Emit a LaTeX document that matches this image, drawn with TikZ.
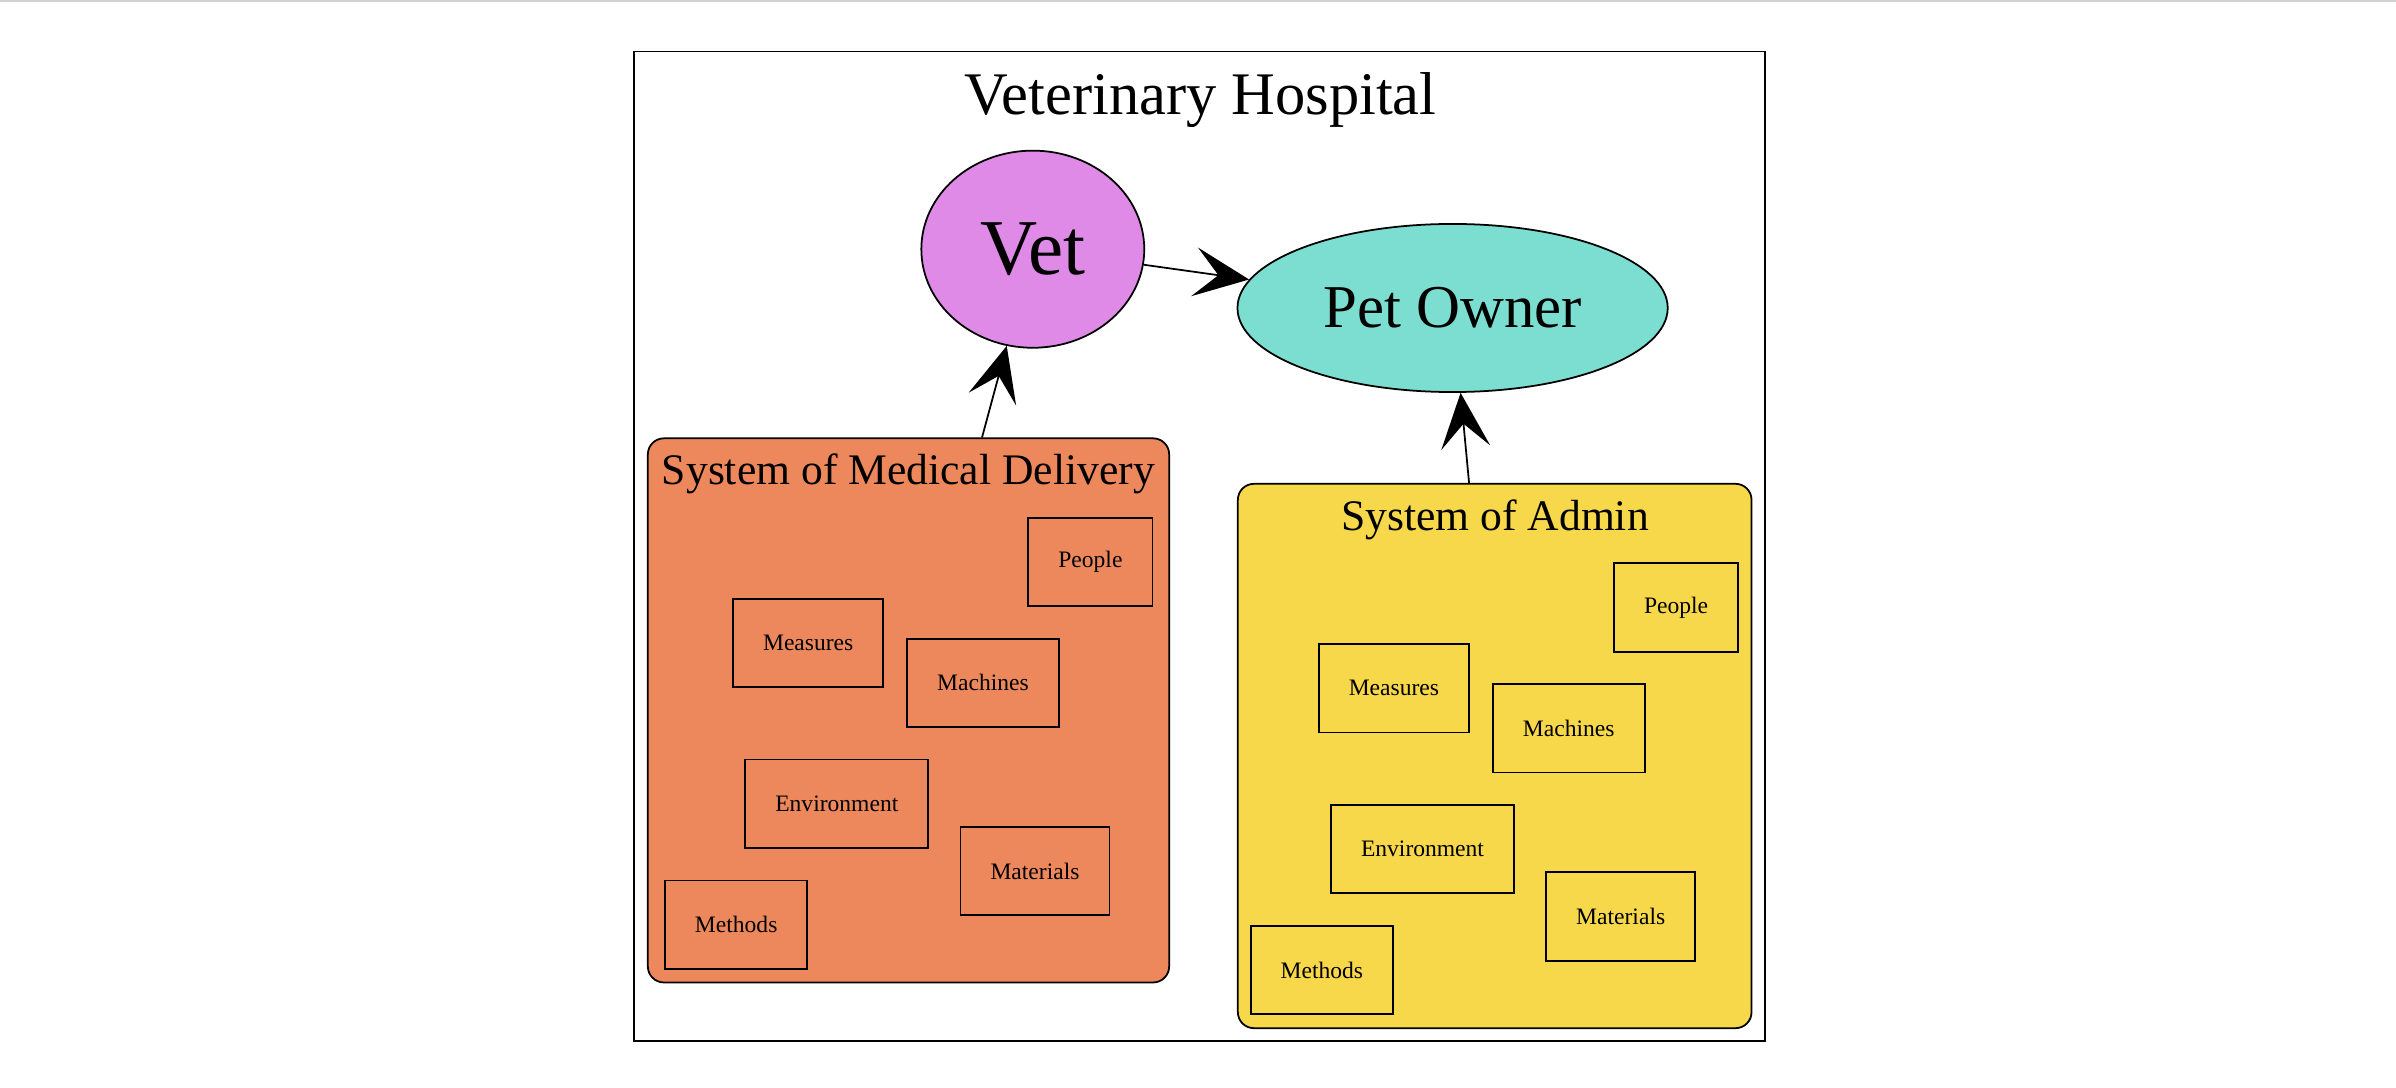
\documentclass[tikz,border=0pt]{standalone}
\usepackage{fontspec}
\setmainfont{Liberation Serif}
\usepackage{tikz}
\usetikzlibrary{arrows.meta,positioning,shapes.geometric}

\definecolor{vetpink}{RGB}{222,138,230}
\definecolor{ownerteal}{RGB}{123,222,208}
\definecolor{medorange}{RGB}{236,136,92}
\definecolor{adminyellow}{RGB}{247,216,74}

\tikzset{
  frame/.style={draw, line width=0.45pt, inner sep=0pt},
  cluster/.style={draw, line width=0.5pt, rounded corners=0.16cm, inner sep=0pt},
  part/.style={draw, line width=0.55pt, inner xsep=0.3cm, inner ysep=0pt, minimum height=0.886cm, font=\fontsize{6.7}{8}\selectfont},
  actor/.style={draw, ellipse, line width=0.5pt, inner sep=0pt},
  arr/.style={-{Stealth[length=0.55cm, width=0.49cm, inset=0.24cm]}, line width=0.5pt}
}

\begin{document}
\begin{tikzpicture}[x=0.01cm, y=-0.01cm]
  \useasboundingbox (0,0) rectangle (2396,1088);
  \draw[gray!35, line width=0.6pt] (0,1) -- (2396,1);

  % Outer frame and title
  \node[frame, minimum width=11.30cm, minimum height=9.89cm] (hospital) at (1199.5,546.2) {};
  \node[anchor=base, font=\fontsize{17.2}{20}\selectfont] (title) at (1200.5,115) {Veterinary Hospital};

  % Vet and Pet Owner
  \node[actor, fill=vetpink, minimum width=2.228cm, minimum height=1.97cm, font=\fontsize{22.5}{26}\selectfont] (vet) at (1032.8,249.2) {Vet};
  \node[actor, fill=ownerteal, minimum width=4.30cm, minimum height=1.68cm, font=\fontsize{17.3}{20}\selectfont] (owner) at (1452.6,308) {Pet Owner};

  % Systems
  \node[cluster, fill=medorange, minimum width=5.21cm, minimum height=5.438cm] (medical) at (908.5,710.4) {};
  \node[anchor=base, font=\fontsize{12.4}{15}\selectfont] (medicaltitle) at (908.4,484.7) {System of Medical Delivery};
  \node[cluster, fill=adminyellow, minimum width=5.134cm, minimum height=5.44cm] (admin) at (1494.7,756) {};
  \node[anchor=base, font=\fontsize{12.4}{15}\selectfont] (admintitle) at (1495,530) {System of Admin};

  % Parts of each system
  \foreach \sys/\dx/\dy in {medical/0/0, admin/585.7/45.3} {
    \begin{scope}[shift={(\dx,\dy)}]
      \node[part] (\sys-people) at (1090.4,562.1) {People};
      \node[part] (\sys-measures) at (808.2,642.9) {Measures};
      \node[part] (\sys-machines) at (983,682.9) {Machines};
      \node[part] (\sys-environment) at (836.8,803.8) {Environment};
      \node[part] (\sys-materials) at (1035,871) {Materials};
      \node[part] (\sys-methods) at (736.2,924.8) {Methods};
    \end{scope}
  }

  % Connectors
  \draw[arr] (vet) -- (owner);
  \draw[arr] (medical) -- (vet);
  \draw[arr] (admin) -- (owner);
\end{tikzpicture}
\end{document}
